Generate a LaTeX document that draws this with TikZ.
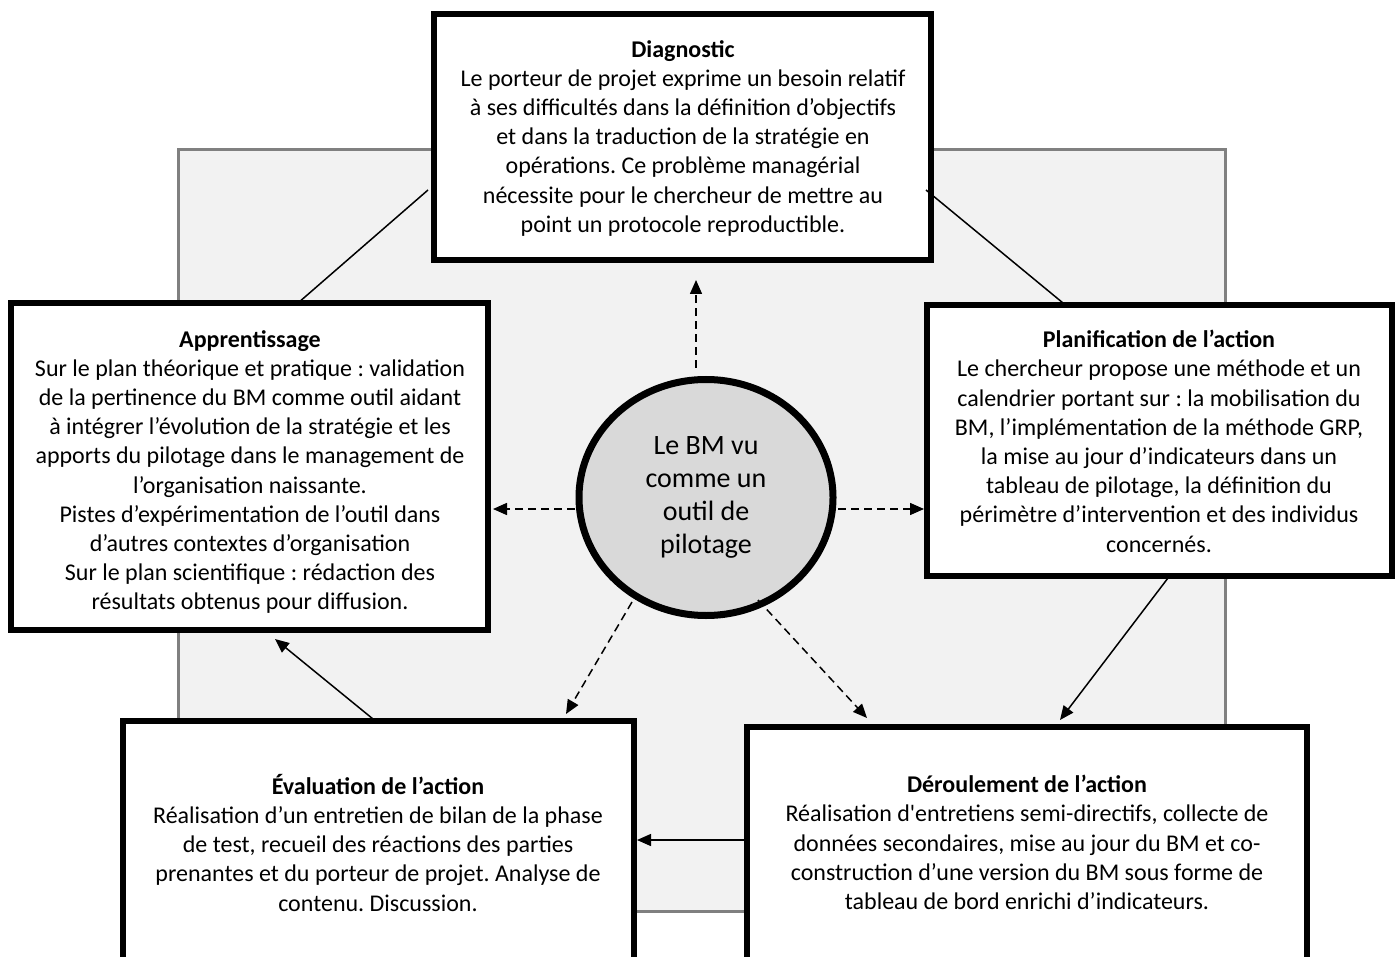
\documentclass[tikz,border=0pt]{standalone}
\usepackage{fontspec}
\setmainfont{Carlito}[Ligatures=TeXOff]
\usetikzlibrary{arrows.meta,shapes.geometric}
\definecolor{bgfill}{HTML}{F2F2F2}
\definecolor{bgline}{HTML}{808080}
\definecolor{ellfill}{HTML}{D9D9D9}
\frenchspacing
\begin{document}
\begin{tikzpicture}[x=1pt,y=-1pt,
  box/.style={draw=black, line width=6pt, fill=white, rectangle, inner sep=0pt, outer sep=0pt},
  txt/.style={align=center, anchor=north, inner sep=0pt, font=\fontsize{24}{29.2}\selectfont},
  link/.style={line width=1.5pt},
  dlink/.style={line width=1.5pt, dash pattern=on 8pt off 5pt},
  tip/.style={-{Triangle[length=14pt,width=12pt]}}
]
\useasboundingbox (0,0) rectangle (1397,957);
\clip (0,0) rectangle (1397,957);
\node[draw=bgline, fill=bgfill, line width=3pt, minimum width=1047pt, minimum height=761pt, inner sep=0pt] (bg) at (701.5,530.5) {};

% boxes
\node[box, minimum width=497pt, minimum height=246pt] (diag) at (682.5,137) {};
\node[box, minimum width=477pt, minimum height=327pt] (app) at (249.5,466.5) {};
\node[box, minimum width=465pt, minimum height=271pt] (plan) at (1159.5,440.5) {};
\node[box, minimum width=511pt, minimum height=279pt] (eval) at (378.5,860.5) {};
\node[box, minimum width=560pt, minimum height=273pt] (derou) at (1027,863.5) {};

% centre ellipse
\node[ellipse, draw=black, line width=7pt, fill=ellfill, minimum width=254pt, minimum height=236pt, inner sep=0pt,
  align=center, font=\fontsize{28}{33}\selectfont] (ell) at (706,497.5) {Le BM vu\\comme un\\outil de\\pilotage};

% texts
\node[txt] (diagt) at (683,40) {\textbf{Diagnostic}\\Le porteur de projet exprime un besoin relatif\\à ses difficultés dans la définition d’objectifs\\et dans la traduction de la stratégie en\\opérations. Ce problème managérial\\nécessite pour le chercheur de mettre au\\point un protocole reproductible.};
\node[txt] (appt) at (250,330) {\textbf{Apprentissage}\\Sur le plan théorique et pratique : validation\\de la pertinence du BM comme outil aidant\\à intégrer l’évolution de la stratégie et les\\apports du pilotage dans le management de\\l’organisation naissante.\\Pistes d’expérimentation de l’outil dans\\d’autres contextes d’organisation\\Sur le plan scientifique : rédaction des\\résultats obtenus pour diffusion.};
\node[txt] (plant) at (1159,330) {\textbf{Planification de l’action}\\Le chercheur propose une méthode et un\\calendrier portant sur : la mobilisation du\\BM, l’implémentation de la méthode GRP,\\la mise au jour d’indicateurs dans un\\tableau de pilotage, la définition du\\périmètre d’intervention et des individus\\concernés.};
\node[txt] (evalt) at (378,774) {\textbf{Évaluation de l’action}\\Réalisation d’un entretien de bilan de la phase\\de test, recueil des réactions des parties\\prenantes et du porteur de projet. Analyse de\\contenu. Discussion.};
\node[txt] (derout) at (1027,775) {\textbf{Déroulement de l’action}\\Réalisation d'entretiens semi-directifs, collecte de\\données secondaires, mise au jour du BM et co-\\construction d’une version du BM sous forme de\\tableau de bord enrichi d’indicateurs.};

% connector end points
\coordinate (d1) at (428,190);
\coordinate (a1) at (298,303);
\coordinate (d2) at (926,190);
\coordinate (p1) at (1063,303);
\coordinate (p2) at (1168,578);
\coordinate (r1) at (1060,720);
\coordinate (r2) at (744,840);
\coordinate (e1) at (637,840);
\coordinate (e2) at (373,719);
\coordinate (a2) at (275,639);
\coordinate (u0) at (696,368);
\coordinate (u1) at (696,280);
\coordinate (rt0) at (838,509);
\coordinate (rt1) at (924,509);
\coordinate (lt0) at (575,509);
\coordinate (lt1) at (493,509);
\coordinate (dl0) at (632,602);
\coordinate (dl1) at (566,714);
\coordinate (dr0) at (758,600);
\coordinate (dr1) at (867,718);

% solid connectors
\draw[link] (d1) -- (a1);
\draw[link] (d2) -- (p1);
\draw[link,tip] (p2) -- (r1);
\draw[link,tip] (r2) -- (e1);
\draw[link,tip] (e2) -- (a2);

% dashed connectors from the centre
\draw[dlink,tip] (u0) -- (u1);
\draw[dlink,tip] (rt0) -- (rt1);
\draw[dlink,tip] (lt0) -- (lt1);
\draw[dlink,tip] (dl0) -- (dl1);
\draw[dlink,tip] (dr0) -- (dr1);
\end{tikzpicture}
\end{document}
